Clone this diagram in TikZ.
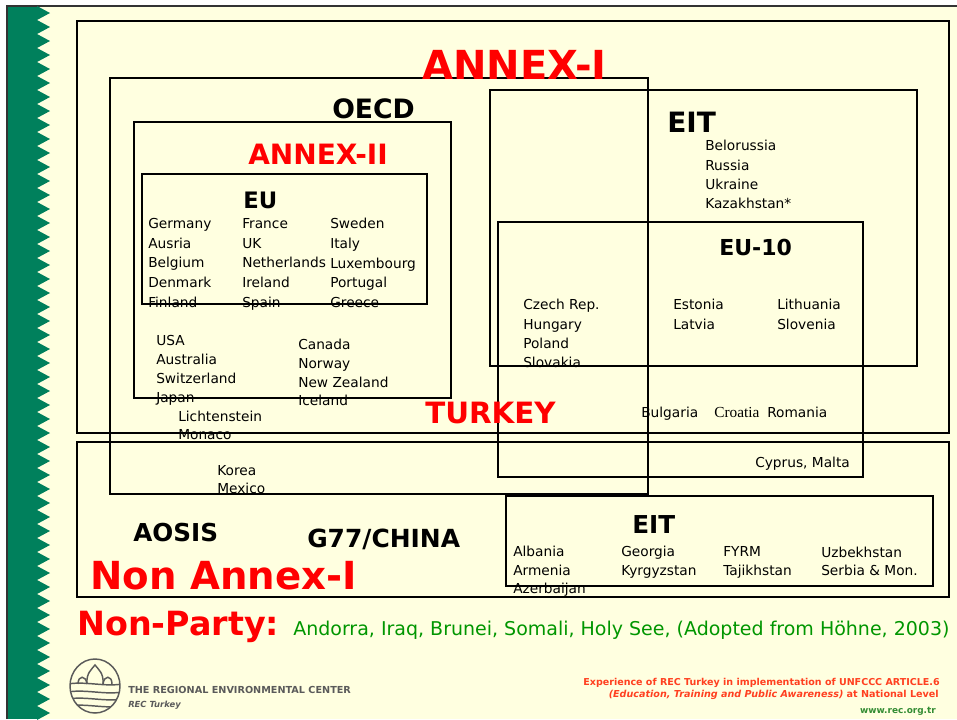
\documentclass[tikz,border=0pt]{standalone}
\usepackage{fontspec}
\setmainfont{DejaVu Sans}
\newfontfamily\serifcro{Liberation Serif}
\definecolor{slidebg}{RGB}{255,255,224}
\definecolor{stripgreen}{RGB}{0,128,92}
\definecolor{partygreen}{RGB}{0,150,0}
\definecolor{webgreen}{RGB}{51,140,51}
\definecolor{footred}{RGB}{255,64,32}
\definecolor{logogray}{RGB}{90,90,90}

\begin{document}
\begin{tikzpicture}[x=0.75pt,y=0.75pt,yscale=-1,xscale=1,
  box/.style={line width=1.2pt},
  head/.style={anchor=base west,inner sep=0pt,font=\bfseries\fontsize{#1}{#1}\selectfont},
  land/.style={anchor=north west,inner sep=0pt,align=left,font=\fontsize{10.3}{#1}\selectfont},
  foot/.style={anchor=base east,inner sep=0pt,font=\bfseries\fontsize{#1}{#1}\selectfont},
  logo/.style={draw=logogray,line width=1.1pt}]
\useasboundingbox (0,0) rectangle (957,719);

%Shape: slide background and border
\fill [slidebg] (7,6) rectangle (957,719);
\draw [line width=1pt,black!80] (7,719) -- (7,6) -- (957,6);
%Shape: green strip with teeth
\fill [stripgreen] (8,7) rectangle (37,719);
\foreach \k in {0,...,50}
  \fill [stripgreen] (37,{6+14*\k}) -- (50,{13+14*\k}) -- (37,{20+14*\k}) -- cycle;

%Shape: Rectangle [annex-I]
\draw [box] (77,21) rectangle (949,433);
%Shape: Rectangle [oecd]
\draw [box] (110,78) rectangle (648,494);
%Shape: Rectangle [annex-II]
\draw [box] (134,122) rectangle (451,398);
%Shape: Rectangle [eu]
\draw [box] (142,174) rectangle (427,304);
%Shape: Rectangle [eit, upper]
\draw [box] (490,90) rectangle (917,366);
%Shape: Rectangle [eu-10]
\draw [box] (498,222) rectangle (863,477);
%Shape: Rectangle [non annex-I]
\draw [box] (77,442) rectangle (949,597);
%Shape: Rectangle [eit, lower]
\draw [box] (506,496) rectangle (933,586);

% Text Node
\draw (422,79) node [head=30,text=red] (annexI) {ANNEX-I};
% Text Node
\draw (332,118) node [head=20] (oecd) {OECD};
% Text Node
\draw (248,164) node [head=21,text=red] (annexII) {ANNEX-II};
% Text Node
\draw (243,208) node [head=17] (eu) {EU};
% Text Node
\draw (148,218) node [land=14.8] (eua) {Germany\\Ausria\\Belgium\\Denmark\\Finland};
\draw (242,218) node [land=14.8] (eub) {France\\UK\\Netherlands\\Ireland\\Spain};
\draw (330,218) node [land=14.8] (euc) {Sweden\\Italy\\Luxembourg\\Portugal\\Greece};
% Text Node
\draw (156,335) node [land=14.25] (usa) {USA\\Australia\\Switzerland\\Japan};
\draw (298,339) node [land=14] (canada) {Canada\\Norway\\New Zealand\\Iceland};
\draw (178,411) node [land=13.5] (licht) {Lichtenstein\\Monaco};
\draw (217,465) node [land=13.5] (korea) {Korea\\Mexico};

% Text Node
\draw (667,132) node [head=21] (eitup) {EIT};
\draw (705,140) node [land=14.5] (belor) {Belorussia\\Russia\\Ukraine\\Kazakhstan*};
% Text Node
\draw (719,255) node [head=16.5] (euten) {EU-10};
\draw (523,299) node [land=14.5] (czech) {Czech Rep.\\Hungary\\Poland\\Slovakia};
\draw (673,299) node [land=15] (estonia) {Estonia\\Latvia};
\draw (777,299) node [land=15] (lithuania) {Lithuania\\Slovenia};
% Text Node
\draw (425,423) node [head=22,text=red] (turkey) {TURKEY};
\draw (641,417) node [land=12,anchor=base west] (bulgaria) {Bulgaria};
\draw (714,417) node [anchor=base west,inner sep=0pt,font=\serifcro\fontsize{11.5}{12}\selectfont] (croatia) {Croatia};
\draw (767,417) node [land=12,anchor=base west] (romania) {Romania};
\draw (755,467) node [land=12,anchor=base west] (cyprus) {Cyprus, Malta};

% Text Node
\draw (133,541) node [head=18.5] (aosis) {AOSIS};
\draw (307,547) node [head=18.7] (gchina) {G77/CHINA};
\draw (90,589) node [head=29,text=red] (nonannex) {Non Annex-I};
% Text Node
\draw (632,533) node [head=18.5] (eitlow) {EIT};
\draw (513,546) node [land=13.9] (albania) {Albania\\Armenia\\Azerbaijan};
\draw (621,546) node [land=14.2] (georgia) {Georgia\\Kyrgyzstan};
\draw (723,546) node [land=14.2] (fyrm) {FYRM\\Tajikhstan};
\draw (821,547) node [land=13.5] (uzbek) {Uzbekhstan\\Serbia \& Mon.};

% Text Node
\draw (77,635) node [head=25,text=red] (nonparty) {Non-Party:};
\draw (293,635) node [anchor=base west,inner sep=0pt,text=partygreen,font=\fontsize{14.25}{14.25}\selectfont] (andorra) {Andorra, Iraq, Brunei, Somali, Holy See, (Adopted from Höhne, 2003)};

%Shape: logo
\draw [logo] (95,686) ellipse [x radius=25,y radius=27];
\begin{scope}
  \clip (95,686) ellipse [x radius=25,y radius=27];
  \foreach \yy in {684,692,699,706}
    \draw [logo] (68,\yy) .. controls (85,{\yy-3}) and (105,{\yy+3}) .. (122,\yy);
\end{scope}
\draw [logo] (78,684) .. controls (78,675) and (86,675) .. (87,684);
\draw [logo] (87,684) .. controls (86,673) and (92,669) .. (95,665) .. controls (98,669) and (104,673) .. (103,684);
\draw [logo] (103,684) .. controls (104,675) and (112,675) .. (112,684);
% Text Node
\draw (128,693) node [anchor=base west,inner sep=0pt,text=logogray,font=\bfseries\fontsize{7.25}{7.5}\selectfont] (reclong) {THE REGIONAL ENVIRONMENTAL CENTER};
\draw (128,707) node [anchor=base west,inner sep=0pt,text=logogray,font=\bfseries\itshape\fontsize{6.3}{7}\selectfont] (recshort) {REC Turkey};

% Text Node
\draw (940,685) node [foot=7.15,text=footred] (foota) {Experience of REC Turkey in implementation of UNFCCC ARTICLE.6};
\draw (939,697) node [foot=7.2,text=footred] (footb) {\itshape (Education, Training and Public Awareness)\upshape{} at National Level};
\draw (936,713) node [foot=6.7,text=webgreen] (web) {www.rec.org.tr};

\end{tikzpicture}
\end{document}
